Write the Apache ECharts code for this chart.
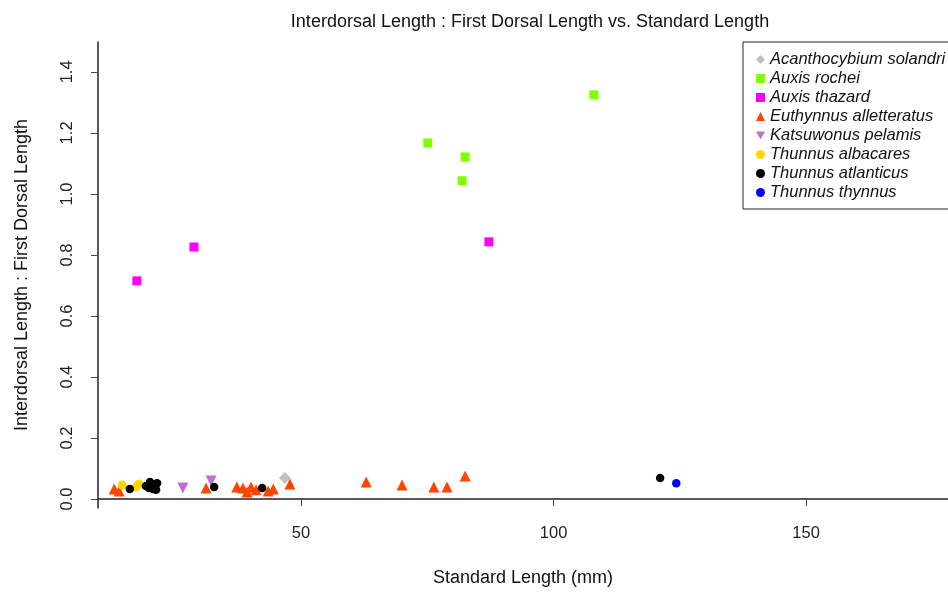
<!DOCTYPE html>
<html>
<head>
<meta charset="utf-8">
<script src="https://cdn.jsdelivr.net/npm/echarts@6/dist/echarts.min.js"></script>
<style>html,body{margin:0;padding:0;background:#fff;overflow:hidden;width:948px;height:592px}#c{width:975px;height:592px}</style>
</head>
<body>
<div id="c"></div>
<script>
const xTicks = [50, 100, 150];
const yTicks = [0, 0.2, 0.4, 0.6, 0.8, 1.0, 1.2, 1.4];

const acanthocybiumSolandri = [[46.8, 0.069]];
const auxisRochei = [[75.1, 1.167], [82.5, 1.121], [81.9, 1.043], [108.0, 1.325]];
const auxisThazard = [[17.5, 0.715], [28.8, 0.826], [87.2, 0.843]];
const euthynnusAlletteratus = [
  [13.0, 0.033], [14.0, 0.026], [31.2, 0.036], [37.3, 0.039], [38.5, 0.036],
  [39.3, 0.023], [40.1, 0.039], [41.1, 0.030], [43.5, 0.026], [44.5, 0.033],
  [47.8, 0.049], [62.9, 0.056], [70.0, 0.046], [76.3, 0.039], [78.9, 0.039], [82.5, 0.075]
];
const katsuwonusPelamis = [[26.6, 0.036], [32.2, 0.059]];
const thunnusAlbacares = [[14.6, 0.046], [17.3, 0.039], [17.9, 0.049]];
const thunnusAtlanticus = [
  [16.1, 0.033], [19.3, 0.043], [20.1, 0.056], [20.7, 0.033], [21.5, 0.052],
  [21.3, 0.030], [19.9, 0.036], [32.8, 0.039], [42.3, 0.036], [121.1, 0.069]
];
const thunnusThynnus = [[124.3, 0.052]];

const seriesDefs = [
  {name: 'Acanthocybium solandri', data: acanthocybiumSolandri, symbol: 'diamond', color: '#c0c0c0', size: 12},
  {name: 'Auxis rochei', data: auxisRochei, symbol: 'rect', color: '#7fff00', size: 9},
  {name: 'Auxis thazard', data: auxisThazard, symbol: 'rect', color: '#ff00ff', size: 9},
  {name: 'Euthynnus alletteratus', data: euthynnusAlletteratus, symbol: 'triangle', color: '#ff4500', size: 11},
  {name: 'Katsuwonus pelamis', data: katsuwonusPelamis, symbol: 'path://M0,0 L10,0 L5,9 Z', color: '#bf6fd0', size: 11},
  {name: 'Thunnus albacares', data: thunnusAlbacares, symbol: 'circle', color: '#ffd700', size: 9},
  {name: 'Thunnus atlanticus', data: thunnusAtlanticus, symbol: 'circle', color: '#000000', size: 8.5},
  {name: 'Thunnus thynnus', data: thunnusThynnus, symbol: 'circle', color: '#0000ff', size: 8.5}
];

const FONT = 'Liberation Sans, Arial, sans-serif';
const chart = echarts.init(document.getElementById('c'));
chart.setOption({
  animation: false,
  backgroundColor: '#fff',
  title: {
    text: 'Interdorsal Length : First Dorsal Length vs. Standard Length',
    left: 525, top: 8, textAlign: 'center',
    textStyle: {fontFamily: FONT, fontSize: 18, fontWeight: 'normal', color: '#111'}
  },
  legend: {
    orient: 'vertical', left: 743, top: 42,
    padding: [9, 12, 8, 13],
    itemWidth: 9, itemHeight: 9, itemGap: 2, itemTextGap: 9,
    borderColor: '#222', borderWidth: 1, borderRadius: 0,
    textStyle: {fontFamily: FONT, fontSize: 16.5, fontStyle: 'italic', color: '#111', lineHeight: 16},
    data: seriesDefs.map(s => s.name)
  },
  grid: {left: 98, right: 27, top: 42, bottom: 84},
  xAxis: {
    type: 'value', min: 9.8, max: 178.1,
    name: 'Standard Length (mm)', nameLocation: 'middle', nameGap: 61,
    nameTextStyle: {fontFamily: FONT, fontSize: 18, color: '#111'},
    axisLine: {show: true, lineStyle: {color: '#222', width: 1.5}},
    axisTick: {show: true, length: 7, lineStyle: {color: '#444'}, customValues: xTicks},
    axisLabel: {customValues: xTicks, margin: 17, fontFamily: FONT, fontSize: 16.5, color: '#222'},
    splitLine: {show: false}
  },
  yAxis: {
    type: 'value', min: -0.0295, max: 1.498,
    name: 'Interdorsal Length : First Dorsal Length', nameLocation: 'middle', nameGap: 67, nameRotate: 90,
    nameTextStyle: {fontFamily: FONT, fontSize: 18, color: '#111'},
    axisLine: {show: true, lineStyle: {color: '#222', width: 1.5}},
    axisTick: {show: true, length: 7, lineStyle: {color: '#444'}, customValues: yTicks},
    axisLabel: {customValues: yTicks, rotate: 90, margin: 22, fontFamily: FONT, fontSize: 16.5, color: '#222',
      formatter: v => Number(v).toFixed(1)},
    splitLine: {show: false}
  },
  series: seriesDefs.map(s => ({
    name: s.name, type: 'scatter', data: s.data, symbol: s.symbol, symbolSize: s.size,
    itemStyle: {color: s.color, opacity: 1}
  }))
});
</script>
</body>
</html>
